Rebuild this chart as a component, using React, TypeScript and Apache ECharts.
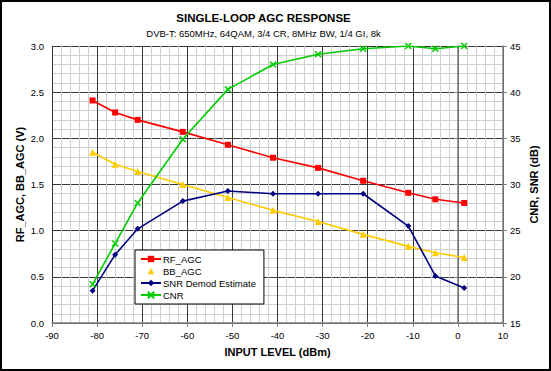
import React, { useEffect, useRef } from "react";
import * as echarts from "echarts";

const inputLevels = [-81, -76, -71, -61, -51, -41, -31, -21, -11, -5, 1.4];
const rfAgc = [2.41, 2.28, 2.2, 2.07, 1.93, 1.79, 1.68, 1.54, 1.41, 1.34, 1.3];
const bbAgc = [1.85, 1.72, 1.64, 1.5, 1.36, 1.22, 1.1, 0.96, 0.83, 0.76, 0.71];
const snrDemod = [18.5, 22.4, 25.2, 28.2, 29.3, 29.0, 29.0, 29.0, 25.5, 20.1, 18.8];
const cnr = [19.2, 23.6, 28.0, 34.9, 40.3, 43.0, 44.1, 44.7, 45.0, 44.7, 45.0];

const seriesNames = ["RF_AGC", "BB_AGC", "SNR Demod Estimate", "CNR"];
const titleText = "SINGLE-LOOP AGC RESPONSE";
const subtitleText = "DVB-T: 650MHz, 64QAM, 3/4 CR, 8MHz BW, 1/4 GI, 8k";

const FONT = "'Liberation Sans', Arial, sans-serif";

const pairs = (ys: number[]) => inputLevels.map((x, i) => [x, ys[i]]);

export default function App() {
  const ref = useRef<HTMLDivElement>(null);
  useEffect(() => {
    if (!ref.current) return;
    const chart = echarts.init(ref.current, undefined, { renderer: "svg" });
    const axisLine = { show: true, lineStyle: { color: "#808080", width: 1.5 } };
    const axisTick = { show: true, length: 4, lineStyle: { color: "#808080", width: 1 } };
    const axisLabel = { color: "#000", fontFamily: FONT, fontSize: 9.5 };
    const nameStyle = { color: "#000", fontFamily: FONT, fontSize: 11, fontWeight: "bold" as const };
    const splitLine = { show: true, lineStyle: { color: "#383838", width: 1 } };
    const minorSplitLine = { show: true, lineStyle: { color: "#cfcfcf", width: 1 } };
    chart.setOption({
      animation: false,
      backgroundColor: "#fff",
      graphic: [
        {
          type: "rect",
          shape: { x: 1, y: 1, width: 549, height: 369 },
          style: { fill: "none", stroke: "#000", lineWidth: 2 },
          silent: true,
        },
        {
          type: "text",
          x: 263.5,
          y: 17.5,
          style: {
            text: titleText,
            align: "center",
            verticalAlign: "middle",
            font: `bold 11.5px ${FONT}`,
            fill: "#000",
          },
        },
        {
          type: "text",
          x: 263.5,
          y: 33,
          style: {
            text: subtitleText,
            align: "center",
            verticalAlign: "middle",
            font: `9.5px ${FONT}`,
            fill: "#000",
          },
        },
      ],
      grid: { left: 52, right: 48, top: 46, bottom: 48, containLabel: false },
      legend: {
        orient: "vertical",
        left: 135,
        top: 250,
        padding: [4, 8, 4, 5],
        borderColor: "#000",
        borderWidth: 1,
        backgroundColor: "#fff",
        itemWidth: 20,
        itemHeight: 8,
        itemGap: 2,
        textStyle: { color: "#000", fontFamily: FONT, fontSize: 9.5, padding: [0, 0, 0, -3] },
        data: [
          { name: seriesNames[0] },
          { name: seriesNames[1], lineStyle: { opacity: 0 } },
          { name: seriesNames[2] },
          { name: seriesNames[3] },
        ],
      },
      xAxis: {
        type: "value",
        min: -90,
        max: 10,
        interval: 10,
        name: "INPUT LEVEL (dBm)",
        nameLocation: "middle",
        nameGap: 23,
        nameMoveOverlap: false,
        nameTextStyle: nameStyle,
        axisLine,
        axisTick,
        axisLabel: { ...axisLabel, margin: 7 },
        splitLine,
        minorTick: { show: false, splitNumber: 5 },
        minorSplitLine,
      },
      yAxis: [
        {
          type: "value",
          min: 0,
          max: 3,
          interval: 0.5,
          name: "RF_AGC, BB_AGC (V)",
          nameLocation: "middle",
          nameGap: 27,
          nameMoveOverlap: false,
          nameTextStyle: nameStyle,
          axisLine,
          axisTick,
          axisLabel: { ...axisLabel, margin: 8, formatter: (v: number) => v.toFixed(1) },
          splitLine,
          minorTick: { show: false, splitNumber: 5 },
          minorSplitLine,
        },
        {
          type: "value",
          min: 15,
          max: 45,
          interval: 5,
          position: "right",
          name: "CNR, SNR (dB)",
          nameLocation: "middle",
          nameGap: 25,
          nameMoveOverlap: false,
          nameRotate: 90,
          nameTextStyle: nameStyle,
          axisLine,
          axisTick,
          axisLabel: { ...axisLabel, margin: 7 },
          splitLine: { show: false },
        },
      ],
      series: [
        {
          name: seriesNames[0],
          type: "line",
          yAxisIndex: 0,
          data: pairs(rfAgc),
          symbol: "rect",
          symbolSize: 6,
          lineStyle: { color: "#ff0000", width: 1.6 },
          itemStyle: { color: "#ff0000" },
        },
        {
          name: seriesNames[1],
          type: "line",
          yAxisIndex: 0,
          data: pairs(bbAgc),
          symbol: "triangle",
          symbolSize: 7,
          lineStyle: { color: "#ffcc00", width: 1.6 },
          itemStyle: { color: "#ffcc00" },
        },
        {
          name: seriesNames[2],
          type: "line",
          yAxisIndex: 1,
          data: pairs(snrDemod),
          symbol: "diamond",
          symbolSize: 6,
          lineStyle: { color: "#000080", width: 1.6 },
          itemStyle: { color: "#000080" },
        },
        {
          name: seriesNames[3],
          type: "line",
          yAxisIndex: 1,
          data: pairs(cnr),
          symbol: "path://M0,0L10,10M10,0L0,10",
          symbolSize: 6,
          lineStyle: { color: "#00cc00", width: 1.6 },
          itemStyle: { color: "#00cc00", borderColor: "#00cc00", borderWidth: 1.5 },
        },
      ],
    });
    return () => chart.dispose();
  }, []);
  return (
    <div
      ref={ref}
      style={{ position: "absolute", left: 0, top: 0, width: 551, height: 371 }}
    />
  );
}
